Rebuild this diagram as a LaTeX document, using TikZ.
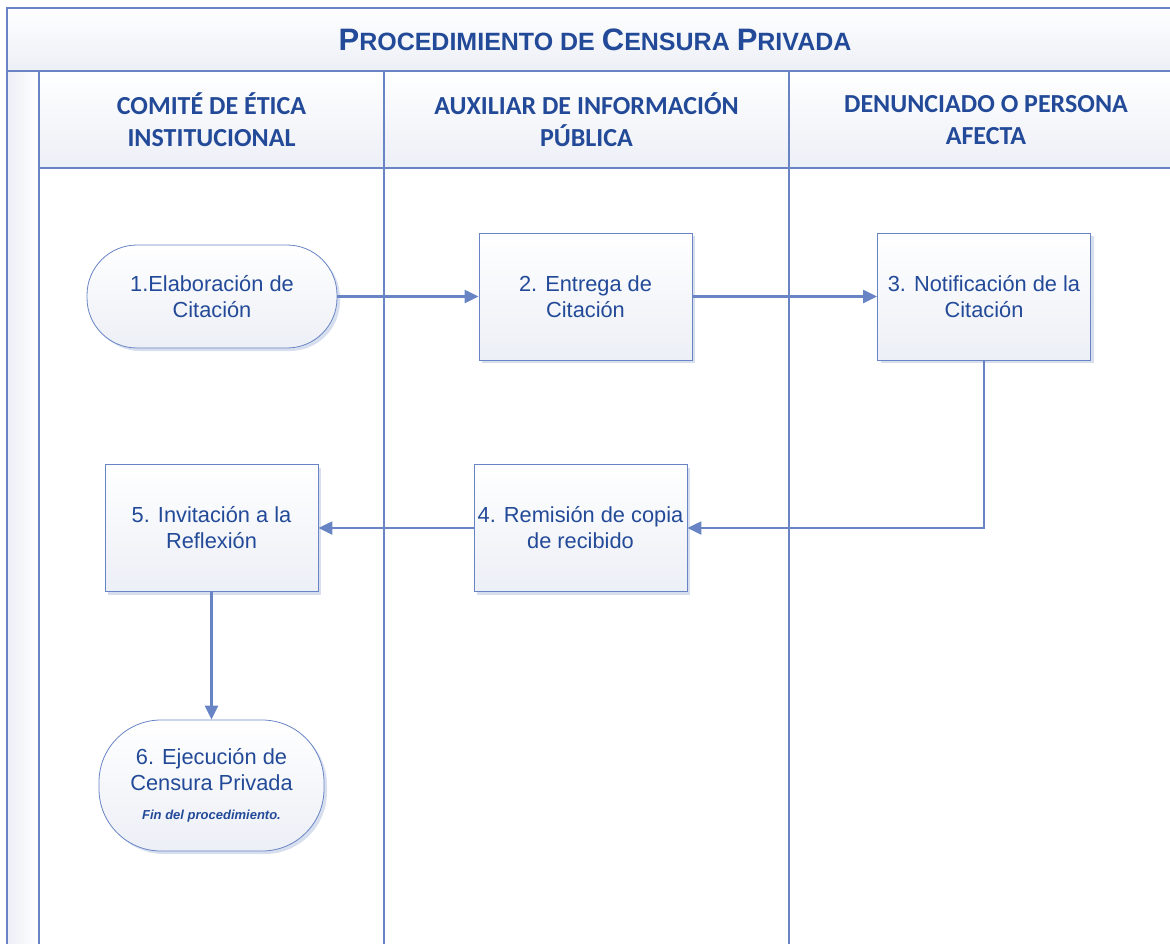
\documentclass[tikz,border=0pt]{standalone}
\usepackage{fontspec}
\setmainfont{Liberation Sans}
\newfontfamily\hdrfont{Carlito}
\usetikzlibrary{arrows.meta,shadows}
\definecolor{lineblue}{RGB}{104,132,196}
\definecolor{textblue}{RGB}{35,74,152}
\definecolor{fillgray}{RGB}{236,239,246}
\definecolor{shadowblue}{RGB}{205,215,235}
\tikzset{
  frame/.style={draw=lineblue,line width=1.8pt},
  band/.style={top color=white,bottom color=fillgray},
  hdr/.style={text=textblue,font=\hdrfont\bfseries\fontsize{26}{32}\selectfont,align=center},
  proc/.style={draw=lineblue,line width=0.8pt,top color=white,bottom color=fillgray,
    minimum width=213pt,minimum height=127pt,inner sep=0pt,text=textblue,align=center,
    font=\fontsize{21.8}{26}\selectfont,
    drop shadow={shadow xshift=3pt,shadow yshift=-3pt,fill=shadowblue,opacity=0.8}},
  term/.style={proc,rounded corners=50pt},
  conn/.style={draw=lineblue,line width=2.2pt,-{Triangle[length=14pt,width=13pt]}},
}
\begin{document}
\begin{tikzpicture}[x=1pt,y=-1pt]
\useasboundingbox (0,0) rectangle (1170,943);
% title band
\fill[band] (7,8) rectangle (1175,71);
\draw[frame] (1175,8) -- (7,8) -- (7,950);
\draw[frame] (7,71) -- (1175,71);
\node[text=textblue,font=\bfseries] (title) at (595,40)
  {\fontsize{31}{32}\selectfont P\fontsize{25}{32}\selectfont ROCEDIMIENTO DE \fontsize{31}{32}\selectfont C\fontsize{25}{32}\selectfont ENSURA \fontsize{31}{32}\selectfont P\fontsize{25}{32}\selectfont RIVADA};
% left strip
\shade[left color=fillgray,right color=white] (8,72) rectangle (38,950);
% header rows
\fill[band] (39,72) rectangle (1175,168);
\draw[frame] (39,71) -- (39,950);
\draw[frame] (384,71) -- (384,950);
\draw[frame] (789,71) -- (789,950);
\draw[frame] (39,168) -- (1175,168);
\node[hdr] (h1) at (211.5,120) {COMITÉ DE ÉTICA\\INSTITUCIONAL};
\node[hdr] (h2) at (586.5,120) {AUXILIAR DE INFORMACIÓN\\PÚBLICA};
\node[hdr] (h3) at (986,120) {DENUNCIADO O PERSONA\\AFECTA};
% nodes
\node[term,minimum width=250pt,minimum height=103pt] (n1) at (212,296.5) {1.Elaboración de\\Citación};
\node[proc] (n2) at (585.5,296.5) {2. Entrega de\\Citación};
\node[proc] (n3) at (984,296.5) {3. Notificación de la\\Citación};
\node[proc] (n4) at (580.5,528) {4. Remisión de copia\\de recibido};
\node[proc] (n5) at (211.5,528) {5. Invitación a la\\Reflexión};
\node[term,rounded corners=62pt,minimum width=225pt,minimum height=131pt] (n6) at (211.5,785.5)
  {6. Ejecución de\\Censura Privada\\[3pt]{\fontsize{13}{14}\selectfont\bfseries\itshape Fin del procedimiento.}};
% connectors
\draw[conn] (n1) -- (n2);
\draw[conn] (n2) -- (n3);
\draw[conn] (n3.south) |- (n4.east);
\draw[conn] (n4) -- (n5);
\draw[conn] (n5) -- (n6);
\end{tikzpicture}
\end{document}
